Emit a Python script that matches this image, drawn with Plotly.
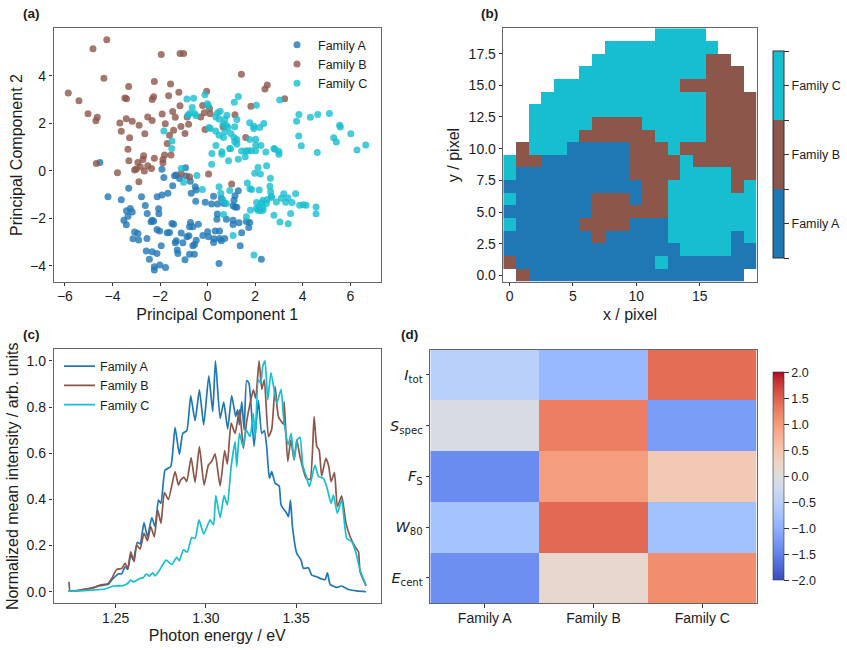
import plotly.graph_objects as go

FAMILIES = ["Family A", "Family B", "Family C"]
COLORS = ["#1f77b4", "#8c564b", "#17becf"]

# (a) PCA scores
pca_a_x = [-4.53,-1.92,-0.93,-1.84,-1.39,-1.32,-1.18,-0.90,-0.73,-1.47,-3.32,-0.52,-0.48,-0.69,-1.67,-1.92,-2.12,-4.19,-2.78,-3.63,-0.50,0.25,-0.10,0.17,1.29,1.15,1.11,0.58,0.69,1.07,1.16,1.23,0.42,-2.62,-2.06,-3.25,-3.41,-3.17,-2.54,-2.05,-3.35,-3.52,-3.42,-2.33,-2.27,-2.38,-1.50,-1.43,0.41,0.39,1.07,0.79,1.07,1.32,1.63,1.77,1.73,-0.72,-0.39,-0.76,-0.62,-2.13,-2.02,-3.07,-2.93,-1.60,-1.70,-1.11,0.00,0.32,0.50,1.43,-0.20,0.04,-0.87,-0.79,-0.48,-2.55,-3.14,-2.90,-1.32,-1.36,-1.04,0.27,0.25,0.50,0.58,0.72,-0.62,-0.55,-1.95,1.37,-1.28,-1.25,-2.58,-2.33,-2.13,-0.76,-0.56,-2.45,-0.95,2.26,0.48,-2.24,-2.01,-1.77,-2.24]
pca_a_y = [0.35,0.06,0.13,-0.28,-0.21,-0.18,-0.32,-0.22,-0.44,-0.63,-0.74,-0.67,-0.81,-0.95,-0.95,-1.02,-1.09,-1.09,-1.09,-1.22,-1.28,-1.07,-1.32,-1.40,-0.84,-1.05,-1.24,-1.16,-1.38,-1.47,-1.52,-1.54,-1.40,-1.46,-1.60,-1.59,-1.68,-1.74,-1.80,-1.81,-1.91,-2.08,-2.27,-2.08,-2.12,-2.15,-2.22,-2.25,-1.82,-2.04,-2.08,-2.04,-2.26,-2.19,-2.13,-2.18,-2.39,-2.18,-2.25,-2.36,-2.36,-2.47,-2.54,-2.58,-2.64,-2.60,-2.61,-2.62,-2.57,-2.53,-2.54,-2.61,-2.72,-2.78,-2.78,-2.74,-2.92,-2.85,-2.86,-2.91,-2.95,-3.03,-3.03,-2.86,-3.02,-2.85,-2.95,-2.85,-3.16,-3.10,-3.16,-3.16,-3.34,-3.48,-3.38,-3.41,-3.48,-3.51,-3.51,-3.72,-3.75,-3.72,-3.90,-4.04,-3.97,-4.07,-4.18]

pca_b_x = [-4.24,-4.82,-1.95,-1.16,-1.01,-4.36,1.42,-2.24,-1.56,-3.32,-5.86,-5.41,-3.48,-3.41,-2.27,-2.33,-1.64,-1.21,-0.04,2.51,2.41,3.24,1.82,-1.16,-0.21,-1.47,-1.36,-1.91,-5.03,-4.64,-4.70,-2.52,-2.33,-3.42,-3.17,-3.69,-2.88,-3.63,-2.64,-3.28,-1.78,-1.12,-0.80,-1.43,-1.60,-0.95,-0.86,-0.29,-0.14,0.11,0.08,-0.11,1.15,0.65,1.60,-1.70,-3.35,-1.54,-1.81,-2.69,-2.72,-3.31,-2.24,-1.88,-1.88,-2.93,-2.52,-4.68,-2.36,-3.07,-3.00,-2.83,-2.66,-3.79,-2.89,-1.11,-0.76,0.04,1.01]
pca_b_y = [5.52,5.14,4.90,4.94,4.94,3.90,4.07,3.76,3.65,3.55,3.28,2.95,3.06,3.03,3.12,3.00,3.16,3.31,3.35,3.61,3.44,3.03,2.72,2.74,2.75,2.50,2.25,2.39,2.40,2.25,2.11,2.27,2.12,2.19,2.09,2.01,1.92,1.67,1.56,1.39,1.98,1.87,1.96,1.71,1.50,1.57,2.27,2.27,2.44,2.40,2.62,1.74,2.36,1.85,1.40,1.15,0.91,0.66,0.66,0.63,0.48,0.42,0.53,0.48,0.34,0.35,0.21,0.31,0.10,0.03,0.08,0.17,-0.01,-0.08,-0.46,-0.11,-0.25,-0.13,-0.56]

pca_c_x = [-0.87,-0.59,-0.11,-0.01,0.03,-0.65,1.29,1.12,2.05,3.03,-0.76,-0.55,-0.83,-0.48,0.42,0.53,0.35,0.48,0.81,0.72,1.23,2.36,1.77,1.94,2.19,1.94,0.79,0.65,0.86,1.14,0.06,0.11,0.34,0.72,0.48,0.98,0.67,1.11,1.23,1.14,1.23,-1.84,-1.50,-1.51,1.77,2.02,2.02,2.24,0.35,0.93,0.96,0.18,0.60,0.60,0.17,0.88,1.29,1.43,1.60,1.70,1.84,2.02,1.58,2.45,2.79,2.83,3.00,3.00,3.84,3.74,4.32,4.63,5.12,3.83,3.94,4.61,5.55,5.58,5.30,5.41,6.02,6.28,6.65,2.12,2.48,1.98,2.22,2.64,1.67,2.62,1.78,1.85,2.17,2.65,2.68,0.48,0.55,0.93,-0.22,-0.45,-1.01,-1.11,0.65,0.79,0.67,1.80,1.63,1.07,1.95,3.20,3.38,3.10,3.70,2.89,3.28,3.55,2.51,2.33,2.68,2.06,2.26,2.47,2.05,2.16,2.33,2.33,2.22,2.12,3.87,4.03,4.14,4.56,4.56,3.49,2.79,3.04,3.39]
pca_c_y = [3.02,3.05,3.20,2.82,2.74,2.67,3.13,2.89,2.76,2.98,2.41,2.41,2.34,2.32,2.44,2.51,2.27,2.18,2.34,2.16,2.16,1.99,2.02,1.88,1.82,1.78,1.92,1.96,1.82,1.85,1.82,1.78,1.68,1.64,1.50,1.57,1.40,1.40,1.32,1.22,1.12,1.68,1.25,0.94,1.32,1.33,1.09,1.07,1.07,0.94,0.93,0.73,0.80,0.70,0.28,0.42,0.49,0.83,0.83,0.84,0.84,0.84,0.59,0.79,0.94,0.91,0.81,0.70,2.37,2.09,2.25,2.37,2.41,1.46,1.05,0.77,1.92,1.84,1.39,1.21,1.56,0.88,1.09,0.14,0.21,-0.10,-0.14,-0.31,-0.51,-0.65,-0.76,-0.79,-0.81,-0.88,-1.07,-0.67,-0.95,-0.83,-0.79,-0.20,-0.48,0.10,-1.24,-1.38,-1.84,-1.66,-1.94,-2.72,-3.55,-0.97,-1.14,-1.16,-0.97,-1.31,-1.32,-1.33,-1.21,-1.24,-1.12,-1.33,-1.35,-1.38,-1.59,-1.54,-1.54,-1.66,-1.68,-1.66,-1.45,-1.43,-1.45,-1.52,-1.81,-1.80,-1.87,-2.16,-2.23]

# (b) cluster map, listed from y = 19 down to y = 0; "." marks an unassigned pixel
cluster_rows = [
    "............CCCC....",
    "........CCCCCCCCC...",
    ".......CCCCCCCCCBB..",
    "......CCCCCCCCCCBBB.",
    "....CCCCCCCCCCBBBBB.",
    "...CCCCCCCCCCCCCBBBB",
    "..CCCCCCCCCCCCCCBBBB",
    "..CCCCCBBBBCCCCCBBBB",
    "..CCCCBBBBBBCCCCBBBB",
    ".BCCCAAAAABBBCBBBBBB",
    "CBBAAAAAAABBBBCBBBBB",
    "CAAAAAAAAABBBBCCCCBB",
    "AAAAAAAAAAABBCCCCCBC",
    "CAAAAAABBBABBCCCCCCC",
    "AAAAAAABBBBBBCCCCCCC",
    "CAAAAABBBBAAACCCCCCC",
    "AAAAAAABAAAAACCCCCAC",
    "AAAAAAAAAAAAAACCCCAA",
    "BAAAAAAAAAAACAAAAAAA",
    ".BAAAAAAAAAAAAAAAAA.",
]

# (c) mean spectra
energy_a = [1.2238,1.2265,1.2302,1.2358,1.2413,1.2459,1.2478,1.2496,1.2515,1.2533,1.2552,1.2567,1.2583,1.2598,1.2620,1.2635,1.2657,1.2676,1.2700,1.2718,1.2737,1.2751,1.2774,1.2805,1.2829,1.2853,1.2872,1.2894,1.2916,1.2940,1.2964,1.2988,1.3016,1.3038,1.3053,1.3079,1.3099,1.3121,1.3143,1.3165,1.3175,1.3186,1.3199,1.3212,1.3226,1.3239,1.3267,1.3291,1.3310,1.3324,1.3337,1.3352,1.3365,1.3384,1.3406,1.3417,1.3448,1.3458,1.3469,1.3480,1.3504,1.3528,1.3541,1.3568,1.3587,1.3615,1.3633,1.3661,1.3674,1.3689,1.3726,1.3753,1.3790,1.3837,1.3888]
intensity_a = [.003,.004,.007,.014,.026,.032,.051,.065,.078,.077,.108,.097,.159,.137,.214,.207,.299,.238,.321,.282,.397,.383,.527,.542,.712,.595,.686,.697,.848,.741,.874,.723,.935,.780,1.0,.751,.821,.705,.850,.759,.788,.723,.824,.701,.915,.903,.629,.828,.686,.698,.629,.491,.520,.470,.458,.376,.340,.325,.397,.282,.166,.137,.101,.104,.072,.065,.058,.053,.082,.032,.019,.025,.010,.004,.000]

energy_b = [1.2241,1.2247,1.2284,1.2330,1.2376,1.2413,1.2459,1.2478,1.2506,1.2533,1.2552,1.2567,1.2583,1.2602,1.2616,1.2635,1.2657,1.2676,1.2694,1.2714,1.2733,1.2751,1.2770,1.2792,1.2829,1.2848,1.2860,1.2879,1.2894,1.2918,1.2940,1.2964,1.2990,1.3014,1.3032,1.3051,1.3079,1.3104,1.3119,1.3140,1.3162,1.3186,1.3208,1.3226,1.3245,1.3263,1.3276,1.3295,1.3310,1.3324,1.3347,1.3365,1.3384,1.3402,1.3430,1.3434,1.3454,1.3471,1.3489,1.3504,1.3522,1.3556,1.3578,1.3600,1.3615,1.3628,1.3642,1.3665,1.3681,1.3694,1.3713,1.3729,1.3753,1.3777,1.3800,1.3827,1.3846,1.3855,1.3888]
intensity_b = [.043,.004,.004,.012,.017,.029,.036,.058,.097,.101,.123,.101,.173,.130,.202,.185,.253,.221,.282,.238,.354,.296,.429,.400,.520,.462,.484,.496,.477,.581,.474,.629,.462,.549,.564,.597,.458,.611,.553,.730,.686,.788,.621,.737,.816,.874,.838,1.0,.877,.918,.672,.704,.889,.759,.727,.824,.564,.658,.571,.658,.585,.491,.487,.759,.629,.614,.501,.578,.545,.477,.516,.368,.415,.296,.238,.195,.173,.087,.025]

energy_c = [1.2238,1.2302,1.2376,1.2441,1.2487,1.2543,1.2570,1.2583,1.2598,1.2635,1.2653,1.2668,1.2687,1.2705,1.2718,1.2746,1.2779,1.2811,1.2838,1.2853,1.2875,1.2897,1.2921,1.2940,1.2962,1.2988,1.3023,1.3042,1.3055,1.3079,1.3101,1.3119,1.3140,1.3162,1.3171,1.3186,1.3205,1.3223,1.3245,1.3263,1.3273,1.3291,1.3304,1.3315,1.3328,1.3343,1.3361,1.3393,1.3417,1.3430,1.3443,1.3456,1.3473,1.3489,1.3507,1.3522,1.3537,1.3556,1.3574,1.3605,1.3624,1.3652,1.3670,1.3694,1.3707,1.3729,1.3753,1.3781,1.3809,1.3833,1.3855,1.3888]
intensity_c = [.003,.004,.007,.012,.025,.027,.039,.051,.043,.058,.061,.077,.068,.082,.069,.097,.137,.118,.149,.134,.181,.172,.234,.231,.311,.250,.311,.289,.416,.321,.416,.376,.542,.650,.542,.686,.629,.701,.672,.773,.665,.918,.903,.975,1.0,.831,.949,.816,.877,.759,.686,.636,.686,.571,.658,.669,.549,.501,.455,.549,.499,.491,.455,.383,.419,.340,.397,.231,.217,.166,.094,.029]

# (d) standardized feature means per family
feature_labels = ["<i>I</i><sub>tot</sub>", "<i>S</i><sub>spec</sub>", "<i>F</i><sub>S</sub>",
                  "<i>W</i><sub>80</sub>", "<i>E</i><sub>cent</sub>"]
feature_means = [
    [-0.50, -0.88, 1.40],
    [-0.10, 1.25, -1.22],
    [-1.40, 0.96, 0.42],
    [-0.74, 1.42, -0.76],
    [-1.36, 0.16, 1.12],
]

# Diverging blue-grey-red scale
COOLWARM_RGB = [(59,76,192),(68,90,204),(77,104,215),(87,117,225),(98,130,234),(108,142,241),(119,154,247),(130,165,251),
                (141,176,254),(152,185,255),(163,194,255),(174,201,253),(184,208,249),(194,213,244),(204,217,238),(213,219,230),
                (221,221,221),(229,216,209),(236,211,197),(241,204,185),(245,196,173),(247,187,160),(247,177,148),(247,166,135),
                (244,154,123),(241,141,111),(236,127,99),(229,112,88),(222,96,77),(213,80,66),(203,62,56),(192,40,47),(180,4,38)]
coolwarm = [[i / 32, f"rgb{c}"] for i, c in enumerate(COOLWARM_RGB)]

W, H = 847, 650
SANS = "Liberation Sans, Arial, sans-serif"
FRAME = "#666666"
INK = "#1c1c1c"


def hspan(left, right):
    return [left / W, right / W]


def vspan(top, bottom):
    return [1 - bottom / H, 1 - top / H]


fig = go.Figure()

# Panel (a)
pca_sets = [(pca_a_x, pca_a_y), (pca_b_x, pca_b_y), (pca_c_x, pca_c_y)]
for name, color, (px_, py_) in zip(FAMILIES, COLORS, pca_sets):
    fig.add_trace(go.Scatter(x=px_, y=py_, mode="markers", name=name, legend="legend",
                             marker=dict(size=7, color=color, opacity=0.8, line=dict(width=0)),
                             xaxis="x", yaxis="y"))

# Panel (b)
code = {"A": 0, "B": 1, "C": 2, ".": None}
cluster_z = [[code[ch] for ch in row] for row in reversed(cluster_rows)]
fig.add_trace(go.Heatmap(
    z=cluster_z, zmin=0, zmax=3, xaxis="x2", yaxis="y2", hoverongaps=False,
    colorscale=[[0, COLORS[0]], [1 / 3, COLORS[0]], [1 / 3, COLORS[1]], [2 / 3, COLORS[1]],
                [2 / 3, COLORS[2]], [1, COLORS[2]]],
    colorbar=dict(x=773 / W, xanchor="left", xpad=0, ypad=0, thickness=10.5, thicknessmode="pixels",
                  y=1 - 258 / H, yanchor="bottom", len=207 / H, lenmode="fraction",
                  tickmode="array", tickvals=[0, 0.5, 1, 1.5, 2, 2.5, 3],
                  ticktext=["", FAMILIES[0], "", FAMILIES[1], "", FAMILIES[2], ""],
                  ticks="outside", ticklen=5, tickcolor="#333333", tickwidth=1,
                  outlinecolor="#333333", outlinewidth=1,
                  tickfont=dict(family=SANS, size=12.5, color=INK)),
))

# Panel (c)
spectra = [(energy_a, intensity_a), (energy_b, intensity_b), (energy_c, intensity_c)]
for name, color, (ex, iy) in zip(FAMILIES, COLORS, spectra):
    fig.add_trace(go.Scatter(x=ex, y=iy, mode="lines", name=name, legend="legend2",
                             line=dict(color=color, width=1.7, shape="spline", smoothing=0.5),
                             xaxis="x3", yaxis="y3"))

# Panel (d)
fig.add_trace(go.Heatmap(
    z=feature_means, x=[0, 1, 2], y=[0, 1, 2, 3, 4], zmin=-2, zmax=2, colorscale=coolwarm,
    xaxis="x4", yaxis="y4",
    colorbar=dict(x=773.3 / W, xanchor="left", xpad=0, ypad=0, thickness=11, thicknessmode="pixels",
                  y=1 - 580.3 / H, yanchor="bottom", len=208 / H, lenmode="fraction",
                  tickmode="array", tickvals=[-2, -1.5, -1, -0.5, 0, 0.5, 1, 1.5, 2],
                  ticktext=["\u22122.0", "\u22121.5", "\u22121.0", "\u22120.5", "0.0", "0.5", "1.0", "1.5", "2.0"],
                  ticks="outside", ticklen=5, tickcolor="#333333", tickwidth=1,
                  outlinecolor="#333333", outlinewidth=0.6,
                  tickfont=dict(family=SANS, size=12.5, color=INK)),
))


def axis(domain, rng, title=None, standoff=None, **extra):
    spec = dict(domain=domain, range=rng, showgrid=False, zeroline=False, showline=True,
                linecolor=FRAME, linewidth=1.3, mirror=True, ticks="outside", ticklen=3.5,
                tickwidth=1, tickcolor="#333333", automargin=False,
                tickfont=dict(family=SANS, size=14, color=INK))
    if title:
        spec["title"] = dict(text=title, standoff=standoff, font=dict(family=SANS, size=16, color=INK))
    spec.update(extra)
    return spec


fig.update_layout(
    width=W, height=H, margin=dict(l=0, r=0, t=0, b=0), plot_bgcolor="white", paper_bgcolor="white",
    font=dict(family=SANS, color=INK),
    xaxis=axis(hspan(53.5, 381), [-6.48, 7.29], "Principal Component 1", 5, ticklabelstandoff=-2,
               anchor="y", tickvals=[-6, -4, -2, 0, 2, 4, 6], ticktext=["\u22126", "\u22124", "\u22122", "0", "2", "4", "6"]),
    yaxis=axis(vspan(28.3, 281.7), [-4.67, 6.0], "Principal Component 2", 3,
               anchor="x", tickvals=[-4, -2, 0, 2, 4], ticktext=["\u22124", "\u22122", "0", "2", "4"]),
    xaxis2=axis(hspan(503.3, 756.7), [-0.5, 19.5], "x / pixel", 5, ticklabelstandoff=-2,
                anchor="y2", tickvals=[0, 5, 10, 15]),
    yaxis2=axis(vspan(28.3, 281.7), [-0.5, 19.5], "y / pixel", 4,
                anchor="x2", tickvals=[0, 2.5, 5, 7.5, 10, 12.5, 15, 17.5], tickformat=".1f"),
    xaxis3=axis(hspan(53.5, 381), [1.2155, 1.3971], "Photon energy / eV", 5, ticklabelstandoff=-2,
                anchor="y3", tickvals=[1.25, 1.30, 1.35], tickformat=".2f"),
    yaxis3=axis(vspan(349.3, 603.3), [-0.05, 1.05], "Normalized mean intensity / arb. units", 3,
                anchor="x3", tickvals=[0, 0.2, 0.4, 0.6, 0.8, 1.0], tickformat=".1f"),
    xaxis4=axis(hspan(430.3, 756.7), [-0.5, 2.5], ticklabelstandoff=-2,
                anchor="y4", tickvals=[0, 1, 2], ticktext=FAMILIES),
    yaxis4=axis(vspan(349.5, 603.3), [4.5, -0.5],
                anchor="x4", tickvals=[0, 1, 2, 3, 4], ticktext=feature_labels,
                tickfont=dict(family="DejaVu Sans", size=14.5, color=INK)),
    legend=dict(x=276 / W, y=1 - 30 / H, xanchor="left", yanchor="top", bgcolor="rgba(0,0,0,0)",
                font=dict(family=SANS, size=12.5, color=INK), itemwidth=32),
    legend2=dict(x=59 / W, y=1 - 351.5 / H, xanchor="left", yanchor="top", bgcolor="rgba(0,0,0,0)",
                 font=dict(family=SANS, size=12.5, color=INK), itemwidth=31),
)

# Panel letters
for letter, lx, ly in [("(a)", 21, 14), ("(b)", 479, 14), ("(c)", 21, 335), ("(d)", 399, 335)]:
    fig.add_annotation(text=f"<b>{letter}</b>", xref="paper", yref="paper", x=lx / W, y=1 - ly / H,
                       xanchor="left", yanchor="middle", showarrow=False,
                       font=dict(family=SANS, size=13.5, color=INK))

fig.write_html("out.html")
